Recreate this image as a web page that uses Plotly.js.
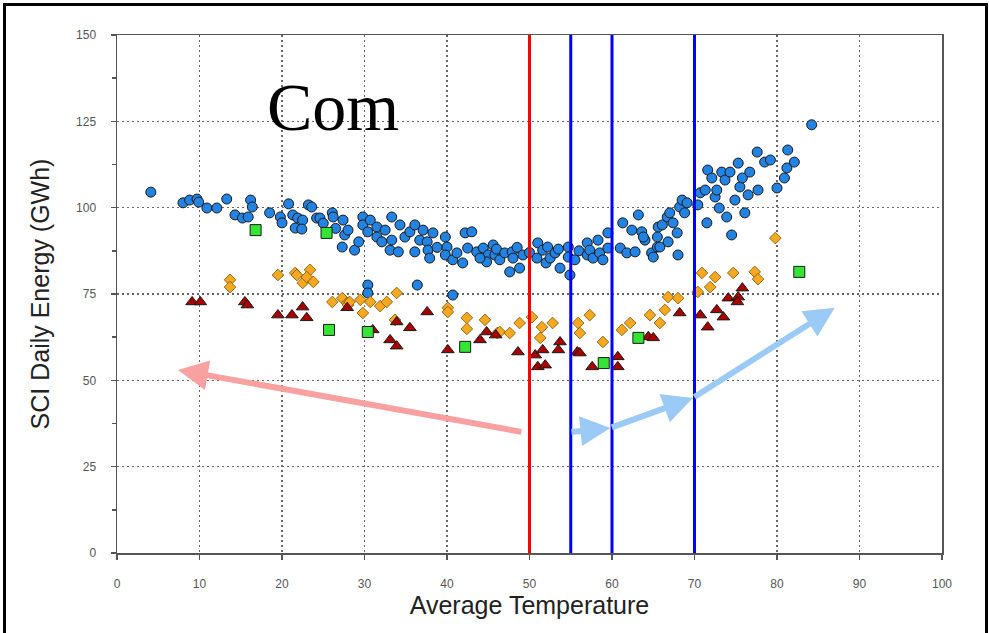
<!DOCTYPE html>
<html>
<head>
<meta charset="utf-8">
<script src="https://cdn.plot.ly/plotly-3.0.1.min.js"></script>
<style>
html,body{margin:0;padding:0;background:#fff;overflow:hidden;}
#wrap{position:relative;width:989px;height:633px;}
#chart{width:989px;height:633px;}
#frame{position:absolute;left:3px;top:3px;width:979px;height:660px;border:3px solid #000;pointer-events:none;}
</style>
</head>
<body>
<div id="wrap"><div id="chart"></div><div id="frame"></div></div>
<script>
// Blue circles (top cluster)
const blueX = [4.1,8.0,8.8,9.7,9.9,10.9,12.1,13.3,14.3,15.2,15.9,16.2,16.4,18.5,19.8,20.0,20.8,21.3,21.9,22.5,23.2,23.6,21.6,22.4,24.2,24.6,25.0,26.1,26.2,26.5,27.4,27.6,27.3,28.0,28.8,29.3,29.8,29.8,30.7,30.4,31.5,31.5,32.1,32.5,33.3,33.3,33.1,34.1,34.3,34.9,35.5,36.1,36.1,36.7,37.1,37.6,37.7,37.9,38.3,38.8,39.8,40.0,39.8,40.7,41.2,41.9,42.2,43.0,42.5,43.6,44.4,45.0,44.8,44.0,30.4,30.4,36.4,40.7,45.6,45.8,46.0,46.4,47.0,47.9,48.0,47.6,48.5,48.8,49.2,50.0,51.0,50.9,51.6,52.0,52.2,52.5,53.1,53.5,53.7,54.7,54.7,54.9,55.5,56.0,57.0,57.0,57.3,57.7,58.3,58.5,58.9,59.5,59.5,61.0,61.3,61.8,62.4,62.8,63.2,63.6,64.0,64.8,65.5,65.6,63.8,65.0,65.5,65.8,66.1,66.7,66.8,67.0,67.4,67.9,68.0,68.2,68.5,68.8,69.1,70.4,70.7,71.3,71.5,71.6,72.1,72.5,72.7,73.0,73.3,73.7,73.9,74.3,74.9,74.5,75.3,75.5,75.8,76.1,76.5,76.7,77.7,77.6,78.5,79.2,80.0,80.9,81.2,81.3,82.1,84.2];
const blueY = [104.5,101.4,102.2,102.5,101.6,99.9,99.9,102.5,97.9,97.0,97.3,102.2,100.2,98.5,97.3,95.6,101.1,97.9,97.0,96.4,100.8,100.2,94.1,93.8,97.0,97.0,95.5,98.5,97.3,94.0,96.4,92.1,88.6,93.5,87.7,90.1,97.3,95.0,96.4,93.0,94.4,91.5,90.1,93.5,97.3,90.6,87.7,87.2,95.0,91.5,93.0,95.0,87.2,90.6,93.5,90.1,87.7,85.4,92.7,88.5,91.5,88.6,86.3,84.9,86.9,84.0,92.7,93.0,88.3,87.2,88.3,86.3,84.3,85.4,77.6,75.3,77.6,74.7,89.2,86.3,88.0,84.9,86.9,87.2,85.4,81.4,88.5,82.5,86.3,87.0,89.8,85.4,87.7,84.0,88.6,85.4,86.9,88.0,82.5,88.6,85.7,80.5,84.9,87.5,89.8,86.3,87.7,85.4,90.6,86.9,84.9,92.7,88.3,88.3,95.6,86.9,93.5,87.2,97.9,93.0,90.6,86.9,88.6,94.4,91.5,85.7,91.5,88.6,95.0,97.3,90.1,98.5,95.6,92.7,86.3,100.2,102.2,98.5,101.4,100.8,104.3,105.1,95.6,110.9,108.6,103.1,105.1,99.9,110.3,108.0,97.3,110.3,102.2,92.1,112.9,106.0,108.6,98.5,103.7,110.3,105.1,116.1,113.2,113.8,105.7,108.6,111.5,116.7,113.2,124.0];
// Orange diamonds
const orangeX = [13.7,13.7,19.5,21.6,21.8,22.5,23.4,23.0,23.8,26.1,27.3,27.9,28.0,28.2,29.5,29.8,30.7,31.9,32.7,33.9,33.7,40.1,40.1,42.4,42.4,44.6,46.1,46.4,47.6,48.8,50.3,51.5,51.3,52.8,55.9,56.1,57.3,58.9,61.2,62.2,64.6,65.8,66.4,66.8,68.0,70.4,70.9,71.9,72.5,74.7,77.3,77.7,79.8];
const orangeY = [79.1,77.0,80.5,81.1,80.5,78.2,82.0,79.9,78.5,72.7,73.8,72.4,71.8,72.7,73.3,69.5,72.7,71.5,72.7,75.3,67.5,71.0,69.8,68.1,64.9,67.5,63.7,64.0,63.7,66.6,68.3,65.4,62.3,66.6,66.6,63.7,68.9,61.1,64.6,66.6,68.9,66.6,70.4,74.1,73.8,75.6,81.1,77.0,79.9,81.1,81.4,79.3,91.2];
// Red triangles
const redX = [9.1,10.1,15.5,15.8,19.5,21.2,22.5,23.0,27.9,31.0,33.1,33.9,33.9,35.5,37.6,40.1,44.0,44.8,45.9,48.6,50.7,51.6,51.0,51.9,53.7,53.5,55.8,56.1,57.6,60.7,60.7,64.4,65.0,68.2,70.7,71.6,72.7,73.5,74.1,75.3,75.8,75.2];
const redY = [72.7,72.7,72.7,71.8,68.9,68.9,71.2,68.1,71.0,64.6,61.7,59.9,66.9,65.2,69.8,58.8,61.7,64.0,63.1,58.2,57.3,58.8,53.9,54.4,61.1,58.8,58.2,57.9,53.9,56.8,53.9,62.6,62.3,69.5,68.9,65.4,70.4,68.3,73.8,74.1,76.7,72.7];
// Green squares
const greenX = [16.8,25.4,25.7,30.4,42.2,59.0,63.2,82.7];
const greenY = [93.5,92.7,64.6,64.0,59.7,55.0,62.3,81.4];
// Threshold temperatures
const redLineX = [50];
const blueLineX = [55, 60, 70];
// Arrows: [tailX, tailY, headX, headY]
const pinkArrow = [[49.2, 35.0, 7.4, 53.0]];
const blueArrows = [[54.9, 35.0, 59.8, 36.2], [59.8, 36.2, 69.8, 44.9], [69.8, 44.9, 87.0, 71.0]];

const outline = {color: '#1a1a1a', width: 1};
const traces = [
  {x: blueX, y: blueY, mode: 'markers', type: 'scatter', marker: {symbol: 'circle', size: 10, color: '#2383e2', line: outline}},
  {x: orangeX, y: orangeY, mode: 'markers', type: 'scatter', marker: {symbol: 'diamond', size: 9, color: '#f6a821', line: {color: '#7a5200', width: 0.8}}},
  {x: redX, y: redY, mode: 'markers', type: 'scatter', marker: {symbol: 'triangle-up', size: 11, color: '#a80000', line: outline}},
  {x: greenX, y: greenY, mode: 'markers', type: 'scatter', marker: {symbol: 'square', size: 11, color: '#33e633', line: outline}}
];

const shapes = [];
redLineX.forEach(v => shapes.push({type: 'line', xref: 'x', yref: 'y', x0: v, x1: v, y0: 0, y1: 150, layer: 'above', line: {color: '#ff0000', width: 3}}));
blueLineX.forEach(v => shapes.push({type: 'line', xref: 'x', yref: 'y', x0: v, x1: v, y0: 0, y1: 150, layer: 'above', line: {color: '#0000ff', width: 3}}));

const annotations = [
  {x: 26.2, y: 129.2, xref: 'x', yref: 'y', text: 'Com', showarrow: false, font: {family: 'Liberation Serif, Times New Roman, serif', size: 68, color: '#000'}}
];
pinkArrow.forEach(a => annotations.push({x: a[2], y: a[3], ax: a[0], ay: a[1], xref: 'x', yref: 'y', axref: 'x', ayref: 'y', text: '', showarrow: true, arrowhead: 2, arrowsize: 1, arrowwidth: 6, arrowcolor: '#f9a0a0'}));
blueArrows.forEach(a => annotations.push({x: a[2], y: a[3], ax: a[0], ay: a[1], xref: 'x', yref: 'y', axref: 'x', ayref: 'y', text: '', showarrow: true, arrowhead: 2, arrowsize: 1, arrowwidth: 6, arrowcolor: '#9ccaf7'}));

const axisCommon = {
  showline: true, mirror: true, linecolor: '#555', linewidth: 1.5,
  ticks: 'outside', ticklen: 5, tickcolor: '#555', tickwidth: 1.5,
  showgrid: true, gridcolor: '#666', griddash: '2px,3px', gridwidth: 1.4,
  zeroline: false,
  tickfont: {family: 'Liberation Sans, Arial, sans-serif', size: 12, color: '#555'}
};

const layout = {
  width: 989, height: 633,
  margin: {l: 117, r: 47, t: 35, b: 80},
  paper_bgcolor: '#fff', plot_bgcolor: '#fff',
  showlegend: false,
  xaxis: Object.assign({}, axisCommon, {
    range: [0, 100], dtick: 10, tick0: 0, ticklabelstandoff: 14,
    title: {text: 'Average Temperature', standoff: 4, font: {family: 'Liberation Sans, Arial, sans-serif', size: 25, color: '#222'}}
  }),
  yaxis: Object.assign({}, axisCommon, {
    range: [0, 150], dtick: 25, tick0: 0, ticklabelstandoff: 12,
    minor: {dtick: 12.5, ticks: 'outside', ticklen: 4, tickcolor: '#555', showgrid: false},
    title: {text: 'SCI Daily Energy (GWh)', standoff: 19, font: {family: 'Liberation Sans, Arial, sans-serif', size: 25, color: '#222'}}
  }),
  shapes: shapes,
  annotations: annotations
};

Plotly.newPlot('chart', traces, layout, {staticPlot: true, displayModeBar: false});
</script>
</body>
</html>
